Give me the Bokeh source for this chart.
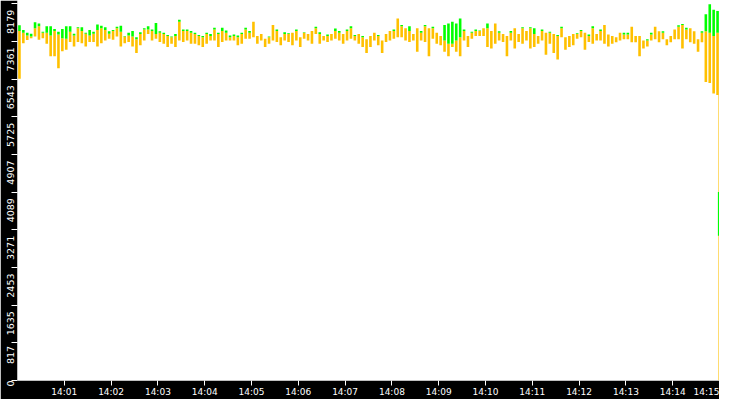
import datetime as dt
import math
from bokeh.plotting import figure
from bokeh.models import Range1d, FixedTicker, DatetimeTickFormatter, LinearAxis
from bokeh.embed import file_html
from bokeh.resources import INLINE

# ---- data ----
y_ticks = [0, 817, 1635, 2453, 3271, 4089, 4907, 5725, 6543, 7361, 8179]
y_tick_labels = ["0", "817", "1635", "2453", "3271", "4089", "4907", "5725", "6543", "7361", "8179"]
x_tick_minutes = [1, 2, 3, 4, 5, 6, 7, 8, 9, 10, 11, 12, 13, 14, 15]

yellow_low = [
    6550, 7320, 7390, 7430, 7470, 7400, 7430, 7310, 7040, 7040, 6780, 7150, 7180, 7350, 7250,
    7350, 7320, 7250, 7350, 7350, 7250, 7320, 7380, 7420, 7400, 7470, 7250, 7320, 7350, 7250,
    7110, 7280, 7380, 7520, 7380, 7420, 7350, 7310, 7240, 7310, 7240, 7380, 7350, 7380, 7310,
    7310, 7280, 7240, 7310, 7380, 7380, 7240, 7350, 7380, 7380, 7380, 7280, 7310, 7420, 7420,
    7450, 7310, 7380, 7240, 7310, 7380, 7350, 7280, 7380, 7350, 7280, 7380, 7240, 7420, 7380,
    7310, 7520, 7310, 7380, 7350, 7380, 7420, 7380, 7310, 7380, 7420, 7380, 7310, 7240, 7110,
    7240, 7380, 7280, 7110, 7350, 7380, 7420, 7450, 7450, 7380, 7350, 7380, 7140, 7380, 7350,
    7040, 7420, 7310, 7280, 7140, 7040, 7240, 7140, 7040, 7380, 7240, 7420, 7480, 7480, 7480,
    7240, 7210, 7310, 7380, 7350, 7040, 7380, 7210, 7350, 7310, 7380, 7210, 7240, 7310, 7380,
    7070, 7310, 7110, 6970, 7450, 7180, 7240, 7280, 7420, 7450, 7180, 7350, 7310, 7380, 7380,
    7310, 7250, 7310, 7345, 7380, 7410, 7410, 7345, 7345, 7040, 7210, 7250, 7380, 7410, 7345,
    7410, 7280, 7345, 7410, 7410, 7210, 7410, 7345, 7310, 7140, 7345, 6480, 6460, 6230, 6200,
]
yellow_high = [
    7590, 7550, 7490, 7470, 7650, 7690, 7550, 7550, 7490, 7590, 7510, 7430, 7420, 7570, 7490,
    7650, 7590, 7530, 7490, 7530, 7610, 7650, 7610, 7530, 7590, 7650, 7570, 7470, 7490, 7470,
    7410, 7520, 7620, 7620, 7590, 7520, 7550, 7520, 7480, 7450, 7480, 7790, 7590, 7590, 7550,
    7520, 7480, 7450, 7520, 7480, 7620, 7520, 7590, 7550, 7450, 7480, 7450, 7520, 7620, 7550,
    7790, 7480, 7520, 7420, 7450, 7720, 7590, 7450, 7520, 7520, 7550, 7590, 7450, 7550, 7520,
    7590, 7650, 7520, 7480, 7480, 7520, 7590, 7550, 7520, 7590, 7650, 7480, 7520, 7450, 7410,
    7480, 7550, 7480, 7380, 7520, 7590, 7590, 7860, 7690, 7650, 7590, 7520, 7650, 7550, 7690,
    7650, 7650, 7550, 7480, 7380, 7310, 7310, 7380, 7450, 7590, 7480, 7550, 7590, 7590, 7650,
    7650, 7590, 7750, 7550, 7520, 7480, 7550, 7650, 7520, 7650, 7590, 7650, 7520, 7480, 7590,
    7550, 7550, 7520, 7480, 7650, 7450, 7480, 7520, 7520, 7590, 7550, 7480, 7650, 7520, 7590,
    7720, 7510, 7480, 7450, 7550, 7510, 7510, 7680, 7480, 7480, 7380, 7380, 7510, 7680, 7580,
    7550, 7410, 7480, 7620, 7680, 7720, 7620, 7650, 7580, 7410, 7550, 7580, 7550, 7480, 7550,
]
green_high = [
    7710, 7610, 7550, 7530, 7780, 7750, 7570, 7690, 7690, 7630, 7570, 7630, 7690, 7690, 7530,
    7670, 7670, 7550, 7610, 7570, 7730, 7700, 7670, 7580, 7610, 7680, 7700, 7480, 7550, 7590,
    7450, 7560, 7650, 7690, 7620, 7760, 7580, 7550, 7500, 7470, 7520, 7830, 7620, 7620, 7590,
    7550, 7500, 7480, 7550, 7520, 7660, 7550, 7660, 7600, 7490, 7510, 7490, 7550, 7660, 7590,
    7790, 7480, 7520, 7420, 7470, 7720, 7620, 7450, 7560, 7540, 7550, 7620, 7450, 7560, 7520,
    7590, 7680, 7560, 7480, 7510, 7520, 7640, 7590, 7520, 7620, 7690, 7500, 7520, 7480, 7410,
    7480, 7550, 7500, 7380, 7520, 7590, 7620, 7860, 7720, 7650, 7690, 7520, 7650, 7590, 7720,
    7650, 7680, 7550, 7480, 7720, 7750, 7790, 7750, 7860, 7620, 7480, 7570, 7620, 7600, 7650,
    7750, 7590, 7750, 7580, 7520, 7480, 7590, 7650, 7520, 7670, 7590, 7670, 7650, 7480, 7620,
    7550, 7570, 7520, 7500, 7680, 7450, 7480, 7520, 7540, 7610, 7550, 7510, 7690, 7520, 7620,
    7720, 7510, 7480, 7450, 7550, 7550, 7550, 7680, 7480, 7480, 7380, 7410, 7550, 7680, 7580,
    7580, 7410, 7480, 7620, 7710, 7740, 7660, 7650, 7580, 7410, 7580, 7950, 8170, 8050, 8020,
]
# final sample (last pixel column)
last_yellow_low = [0]
last_yellow_high = [6200]
last_green_low = [3140]
last_green_high = [4090]

# ---- style ----
GREEN = "#00ff00"
YELLOW = "#ffc000"
FONT = "DejaVu Sans"
Y_MAX = 8250
label_shift_px = [0, 3, 6, 6, 6, 6, 6, 6, 6, 6, 6]   # rotated labels hang below their tick

# ---- time grid ----
t0 = dt.datetime(2024, 1, 1, 14, 0, 0)
epoch = dt.datetime(1970, 1, 1)
bar_step_s = 5.0
bar_times = [t0 + dt.timedelta(seconds=bar_step_s * (i + 0.5)) for i in range(len(yellow_low))]
last_yellow_time = [t0 + dt.timedelta(seconds=899.6)]
last_green_time = [t0 + dt.timedelta(seconds=898.9)]
x_ticks_ms = [((t0 + dt.timedelta(minutes=m)) - epoch).total_seconds() * 1000 for m in x_tick_minutes]

H, W = 399, 719
p = figure(width=W, height=H, x_axis_type="datetime",
           x_range=Range1d(t0, t0 + dt.timedelta(seconds=900)),
           y_range=Range1d(0, Y_MAX),
           output_backend="svg", toolbar_location=None,
           min_border_left=0, min_border_right=0, min_border_top=0, min_border_bottom=16,
           background_fill_color="white", border_fill_color="black",
           outline_line_color=None)
p.grid.visible = False

p.segment(x0=bar_times, y0=yellow_low, x1=bar_times, y1=yellow_high, line_color=YELLOW, line_width=2.6)
p.segment(x0=bar_times, y0=yellow_high, x1=bar_times, y1=green_high, line_color=GREEN, line_width=2.6)
p.segment(x0=last_yellow_time, y0=last_yellow_low, x1=last_yellow_time, y1=last_yellow_high,
          line_color=YELLOW, line_width=1.5)
p.segment(x0=last_green_time, y0=last_green_low, x1=last_green_time, y1=last_green_high,
          line_color=GREEN, line_width=1.5)

# x axis
xa = p.xaxis[0]
xa.ticker = FixedTicker(ticks=x_ticks_ms)
xa.formatter = DatetimeTickFormatter(minutes="%H:%M", minsec="%H:%M", hourmin="%H:%M",
                                     hours="%H:%M", seconds="%H:%M")
xa.major_label_text_color = "white"
xa.major_label_text_font = FONT
xa.major_label_text_font_size = "9px"
xa.major_tick_line_color = "white"
xa.major_tick_out = 5
xa.major_tick_in = 0
xa.minor_tick_line_color = None
xa.axis_line_color = None
xa.major_label_standoff = 1

# y axis: tick marks only (next to the frame)
ya = p.yaxis[0]
ya.ticker = FixedTicker(ticks=y_ticks)
ya.major_label_overrides = {v: "" for v in y_ticks}
ya.major_label_standoff = 0
ya.major_tick_line_color = "white"
ya.major_tick_out = 6
ya.major_tick_in = 0
ya.minor_tick_line_color = None
ya.axis_line_color = None

# y axis: rotated labels, hanging just below each tick
frame_h = H - 18
units_per_px = Y_MAX / frame_h
label_pos = [int(round(v - s * units_per_px)) for v, s in zip(y_ticks, label_shift_px)]
label_axis = LinearAxis(ticker=FixedTicker(ticks=label_pos),
                        major_label_overrides={pos: t for pos, t in zip(label_pos, y_tick_labels)},
                        major_label_orientation=math.pi / 2,
                        major_label_text_color="white", major_label_text_font=FONT,
                        major_label_text_font_size="9.5px", major_label_standoff=1,
                        major_tick_line_color=None, major_tick_out=0, major_tick_in=0,
                        minor_tick_line_color=None, axis_line_color=None)
p.add_layout(label_axis, "left")

open("out.html", "w").write(file_html(p, INLINE))
